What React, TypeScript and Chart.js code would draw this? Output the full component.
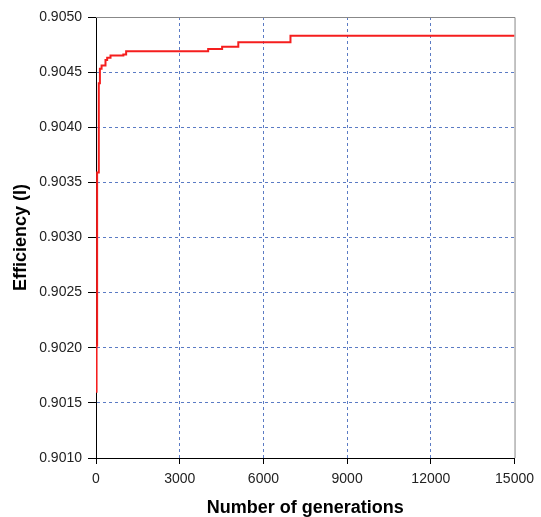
import React, { useEffect, useRef } from "react";
import { Chart, registerables } from "chart.js";

Chart.register(...registerables);

const generations = [0, 20, 40, 100, 140, 200, 340, 400, 520, 980, 1080, 4020, 4520, 5100, 6970, 15000];
const efficiency = [0.9016, 0.90202, 0.90359, 0.9044, 0.90453, 0.90456, 0.90461, 0.90463, 0.90465, 0.90466, 0.90469, 0.90471, 0.90473, 0.90477, 0.90483, 0.90483];

const xTitle = "Number of generations";
const yTitle = "Efficiency (I)";

const FONT = "'Liberation Sans', Arial, sans-serif";
const GRID = "#5b7bc4";

const frame = {
  id: "frame",
  beforeDatasetsDraw(chart: any) {
    const { ctx, chartArea } = chart;
    ctx.save();
    ctx.strokeStyle = "#888888";
    ctx.lineWidth = 1;
    ctx.beginPath();
    ctx.moveTo(chartArea.left, chartArea.top + 0.5);
    ctx.lineTo(chartArea.right + 0.5, chartArea.top + 0.5);
    ctx.lineTo(chartArea.right + 0.5, chartArea.bottom);
    ctx.stroke();
    ctx.restore();
  },
};

export default function App() {
  const ref = useRef<HTMLCanvasElement | null>(null);
  useEffect(() => {
    if (!ref.current) return;
    const hideEdges = (c: any) => {
      const n = c.scale?.ticks?.length ?? 0;
      return c.index === 0 || c.index === n - 1 ? "rgba(0,0,0,0)" : GRID;
    };
    const chart = new Chart(ref.current, {
      type: "line",
      data: {
        datasets: [
          {
            data: generations.map((g, i) => ({ x: g, y: efficiency[i] })),
            borderColor: "#f51e1e",
            borderWidth: 2,
            pointRadius: 0,
            stepped: "before",
            fill: false,
          },
        ],
      },
      options: {
        responsive: false,
        animation: false,
        layout: { padding: { top: 17, right: 26, left: 0, bottom: 0 } },
        plugins: { legend: { display: false }, tooltip: { enabled: false } },
        scales: {
          x: {
            type: "linear",
            min: 0,
            max: 15000,
            ticks: {
              stepSize: 3000,
              color: "#222",
              font: { family: FONT, size: 14 },
              padding: 7,
              maxRotation: 0,
              callback: (v: any) => String(v),
            },
            grid: {
              color: hideEdges,
              lineWidth: 1,
              tickLength: 6,
              tickColor: "#000",
              tickBorderDash: [],
            } as any,
            border: { color: "#000", width: 1, dash: [3, 3] } as any,
            title: {
              display: true,
              text: xTitle,
              color: "#000",
              font: { family: FONT, size: 18, weight: "bold", lineHeight: 1 },
              padding: { top: 0, bottom: 0 },
            },
            afterFit: (s: any) => {
              s.height = 59;
            },
          },
          y: {
            type: "linear",
            min: 0.901,
            max: 0.905,
            ticks: {
              stepSize: 0.0005,
              color: "#222",
              font: { family: FONT, size: 14 },
              padding: 6,
              callback: (v: any) => Number(v).toFixed(4),
            },
            grid: {
              color: hideEdges,
              lineWidth: 1,
              tickLength: 8,
              tickColor: "#000",
              tickBorderDash: [],
            } as any,
            border: { color: "#000", width: 1, dash: [3, 3] } as any,
            title: {
              display: true,
              text: yTitle,
              color: "#000",
              font: { family: FONT, size: 18, weight: "bold", lineHeight: 1 },
              padding: { top: 12, bottom: 0 },
            },
            afterFit: (s: any) => {
              s.width = 96;
            },
          },
        },
      } as any,
      plugins: [frame],
    });
    return () => chart.destroy();
  }, []);
  return (
    <div style={{ position: "absolute", left: 0, top: 0, width: 541, height: 517, background: "#fff" }}>
      <canvas ref={ref} width={541} height={517} style={{ display: "block" }} />
    </div>
  );
}
